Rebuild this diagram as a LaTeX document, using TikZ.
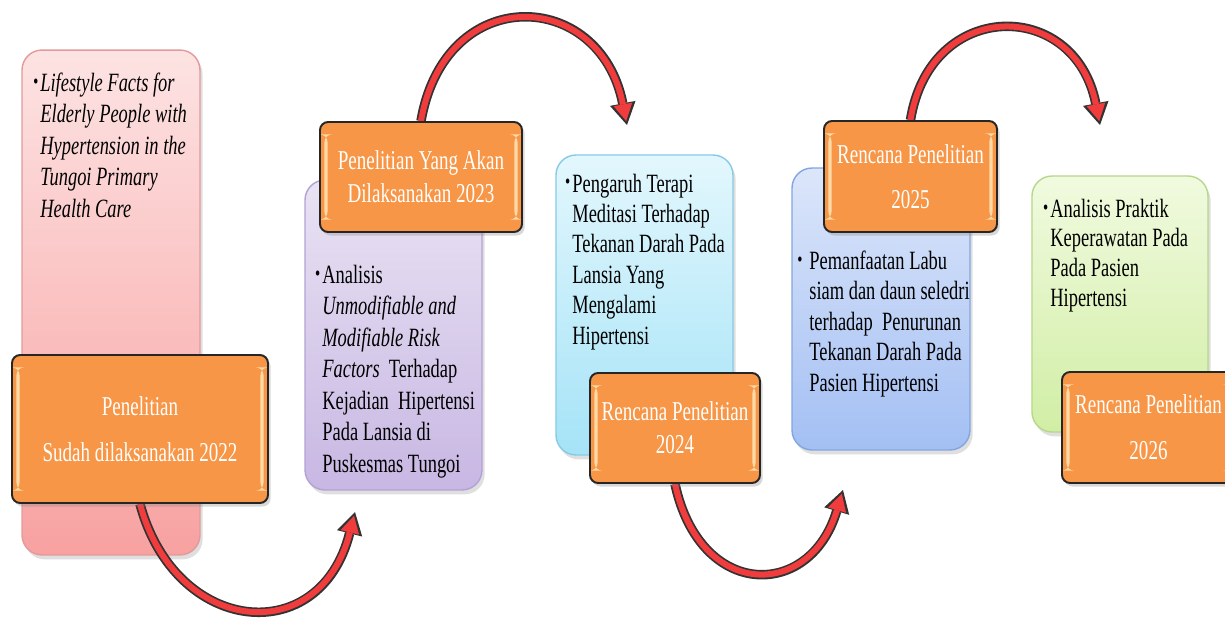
\documentclass[tikz,border=0pt]{standalone}
\usepackage{fontspec}
\setmainfont{Liberation Serif}[FakeStretch=0.7]
\usetikzlibrary{arrows.meta,shadows}
\definecolor{orfill}{HTML}{F79646}
\definecolor{orstrip}{HTML}{FFE6B8}
\definecolor{arrred}{HTML}{F03C3C}
\definecolor{pinkT}{HTML}{FDE3E3}
\definecolor{pinkB}{HTML}{F8A1A1}
\definecolor{pinkD}{HTML}{E39A9A}
\definecolor{purT}{HTML}{E9E3F3}
\definecolor{purB}{HTML}{C8B7E3}
\definecolor{purD}{HTML}{B3A2D6}
\definecolor{cyaT}{HTML}{E3F7FD}
\definecolor{cyaB}{HTML}{A5E3F7}
\definecolor{cyaD}{HTML}{86CBE6}
\definecolor{bluT}{HTML}{DCE6FA}
\definecolor{bluB}{HTML}{A3BFF3}
\definecolor{bluD}{HTML}{83A6DE}
\definecolor{grnT}{HTML}{F1FADF}
\definecolor{grnB}{HTML}{D1EEA5}
\definecolor{grnD}{HTML}{B5D88A}
\pgfdeclarelayer{boxlayer}
\pgfdeclarelayer{arrowlayer}
\pgfsetlayers{boxlayer,arrowlayer,main}
\newcommand\bul{\raisebox{0.12em}{\scalebox{0.8}{\textbullet}}\hspace{1.2pt}}
\tikzset{
  pbox/.style={rectangle, rounded corners=0.4cm, line width=0.8pt, inner sep=0pt,
    drop shadow={opacity=0.25, shadow xshift=1.5pt, shadow yshift=-2.5pt}},
  obox/.style={rectangle, rounded corners=0.16cm, draw=black!85, line width=1.1pt,
    fill=orfill, text=white, align=center, inner sep=0pt,
    font=\fontsize{15.5}{18.8}\selectfont,
    drop shadow={opacity=0.3, shadow xshift=1.5pt, shadow yshift=-2pt},
    path picture={
      \fill[orstrip,opacity=0.85] ([xshift=2.5pt,yshift=-7pt]path picture bounding box.north west) rectangle ([xshift=4.3pt,yshift=7pt]path picture bounding box.south west);
      \fill[orstrip,opacity=0.85] ([xshift=-2.5pt,yshift=-7pt]path picture bounding box.north east) rectangle ([xshift=-4.3pt,yshift=7pt]path picture bounding box.south east);
    }},
  btxt/.style={align=left, inner sep=0pt, anchor=base west, text=black,
    font=\fontsize{15}{17.8}\selectfont},
  arrowout/.style={draw=black!80, line width=0.19cm,
    -{Triangle[length=0.44cm,width=0.52cm,line width=0pt]}},
  arrowin/.style={draw=arrred, line width=0.12cm, shorten >=0.08cm,
    -{Triangle[length=0.34cm,width=0.38cm,line width=0pt]}},
}
\newcommand\redarrow[1]{\draw[arrowout] #1; \draw[arrowin] #1;}
\begin{document}
\begin{tikzpicture}[x=0.02cm,y=-0.02cm]
\useasboundingbox (0,0) rectangle (1225,619);
\begin{pgfonlayer}{boxlayer}
\fill[white] (0,0) rectangle (1225,619);
\node[pbox, top color=pinkT, bottom color=pinkB, draw=pinkD, minimum width=3.56cm, minimum height=10.1cm] (pink) at (111,302.5) {};
\node[pbox, top color=purT, bottom color=purB, draw=purD, minimum width=3.54cm, minimum height=6.2cm] (pur) at (393.5,335) {};
\node[pbox, top color=cyaT, bottom color=cyaB, draw=cyaD, minimum width=3.54cm, minimum height=6.0cm] (cya) at (644.5,305) {};
\node[pbox, top color=bluT, bottom color=bluB, draw=bluD, minimum width=3.56cm, minimum height=5.64cm] (blu) at (881,309) {};
\node[pbox, top color=grnT, bottom color=grnB, draw=grnD, minimum width=3.52cm, minimum height=5.12cm] (grn) at (1120,304) {};
\end{pgfonlayer}

\node[obox, minimum width=5.12cm, minimum height=2.96cm] (o1) at (140,429) {Penelitian\\[7.5pt]Sudah dilaksanakan 2022};
\node[obox, minimum width=4.04cm, minimum height=2.2cm] (o2) at (421,177) {Penelitian Yang Akan\\Dilaksanakan 2023};
\node[obox, minimum width=3.4cm, minimum height=2.2cm] (o3) at (675,428) {Rencana Penelitian\\2024};
\node[obox, minimum width=3.46cm, minimum height=2.22cm] (o4) at (910.5,176.5) {Rencana Penelitian\\[7pt]2025};
\node[obox, minimum width=3.46cm, minimum height=2.22cm] (o5) at (1148.5,427.5) {Rencana Penelitian\\[7.5pt]2026};

\coordinate (e1) at (355,512);
\coordinate (e2) at (627,125);
\coordinate (e3) at (843,490);
\coordinate (e4) at (1100,125);
\begin{pgfonlayer}{arrowlayer}
\redarrow{(o1.south) .. controls (175,635) and (320,650) .. (e1)}
\redarrow{(o2.north) .. controls (445,-18) and (600,-12) .. (e2)}
\redarrow{(o3.south) .. controls (700,600) and (810,600) .. (e3)}
\redarrow{(o4.north) .. controls (930,-2) and (1075,-2) .. (e4)}
\end{pgfonlayer}

\node[btxt, font=\fontsize{15}{17.9}\selectfont\itshape] (pinktxt) at (40,217)
  {\llap{\bul}Lifestyle Facts for\\Elderly People with\\Hypertension in the\\Tungoi Primary\\Health Care};
\node[btxt, font=\fontsize{15}{17.9}\selectfont] (purtxt) at (322,472)
  {\llap{\bul}Analisis\\\textit{Unmodifiable and}\\\textit{Modifiable Risk}\\\textit{Factors}\ \ Terhadap\\Kejadian\ \ Hipertensi\\Pada Lansia di\\Puskesmas Tungoi};
\node[btxt, font=\fontsize{15}{17.3}\selectfont] (cyatxt) at (572,344)
  {\llap{\bul}Pengaruh Terapi\\Meditasi Terhadap\\Tekanan Darah Pada\\Lansia Yang\\Mengalami\\Hipertensi};
\node[btxt, font=\fontsize{15}{17.3}\selectfont] (blutxt) at (809,391)
  {\llap{\bul\ }Pemanfaatan Labu\\siam dan daun seledri\\terhadap\ \ Penurunan\\Tekanan Darah Pada\\Pasien Hipertensi};
\node[btxt, font=\fontsize{15}{16.8}\selectfont] (grntxt) at (1050,306)
  {\llap{\bul}Analisis Praktik\\Keperawatan Pada\\Pada Pasien\\Hipertensi};
\end{tikzpicture}
\end{document}
